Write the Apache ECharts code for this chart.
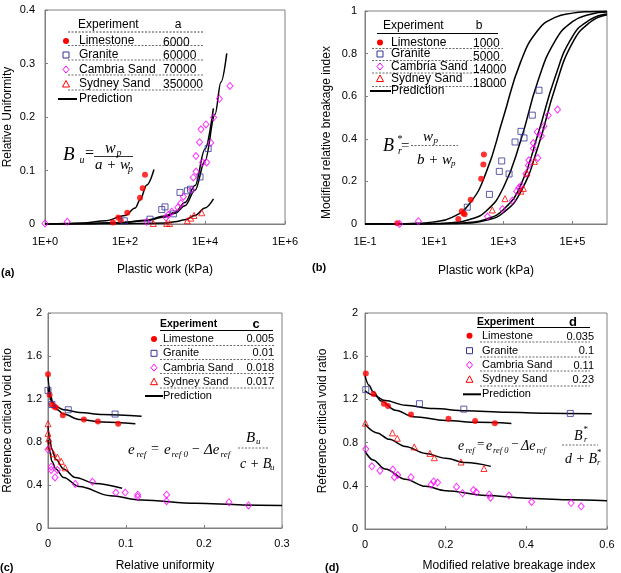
<!DOCTYPE html>
<html>
<head>
<meta charset="utf-8">
<script src="https://cdn.jsdelivr.net/npm/echarts@6/dist/echarts.min.js"></script>
<style>
html, body { margin: 0; padding: 0; background: #fff; }
#main { width: 621px; height: 573px; }
</style>
</head>
<body>
<div id="main"></div>
<script>
'use strict';
// ---- data ----
var materials = ['Limestone', 'Granite', 'Cambria Sand', 'Sydney Sand'];
var paramA = ['6000', '60000', '70000', '350000'];
var paramB = ['1000', '5000', '14000', '18000'];
var paramC = ['0.005', '0.01', '0.018', '0.017'];
var paramD = ['0.035', '0.1', '0.11', '0.23'];
var logTicksB = [0.1, 10, 1000, 100000];

// (a) plastic work (kPa) vs relative uniformity
var aLimestone = [[50, 0.003], [68, 0.012], [78, 0.007], [114, 0.021], [237, 0.049], [277, 0.067], [316, 0.092]];
var aGranite = [[96, 0.006], [422, 0.009], [830, 0.027], [1000, 0.032], [1620, 0.019], [2370, 0.059], [3630, 0.062], [4340, 0.065], [7500, 0.088], [12000, 0.141]];
var aCambria = [[1, 0.001], [3.6, 0.004], [350, 0.004], [1060, 0.012], [1200, 0.017], [1480, 0.023], [2090, 0.031], [2500, 0.039], [2880, 0.051], [4660, 0.064], [5100, 0.087], [6000, 0.098], [5950, 0.127], [7300, 0.153], [7940, 0.177], [8700, 0.115], [11000, 0.115], [10600, 0.186], [13900, 0.152], [16400, 0.199], [22900, 0.234], [42000, 0.258]];
var aSydney = [[510, 0.001], [1100, 0.001], [1300, 0.001], [3630, 0.006], [4400, 0.011], [5300, 0.016], [8300, 0.021]];
var aPredLimestone = [[1, 0], [3.2, 0.001], [10, 0.002], [32, 0.006], [100, 0.016], [180, 0.03], [237, 0.045], [350, 0.073], [530, 0.102]];
var aPredGranite = [[1, 0], [10, 0.001], [100, 0.003], [316, 0.007], [1000, 0.015], [1780, 0.022], [3160, 0.04], [5620, 0.072], [10000, 0.14], [16200, 0.216]];
var aPredCambria = [[1, 0], [10, 0.001], [100, 0.003], [316, 0.006], [1000, 0.013], [1780, 0.02], [3160, 0.034], [5620, 0.063], [10000, 0.118], [17800, 0.205], [25000, 0.265], [35000, 0.319]];
var aPredSydney = [[1, 0], [10, 0], [100, 0.0005], [316, 0.001], [1000, 0.002], [1780, 0.004], [3160, 0.008], [5620, 0.016], [10000, 0.03], [16300, 0.047]];

// (b) plastic work (kPa) vs modified relative breakage index
var bLimestone = [[0.86, 0.004], [50, 0.024], [63, 0.06], [70, 0.05], [76, 0.046], [114, 0.114], [229, 0.213], [265, 0.279], [275, 0.326]];
var bGranite = [[91, 0.079], [398, 0.139], [767, 0.247], [900, 0.296], [1470, 0.235], [2190, 0.385], [3250, 0.435], [3980, 0.404], [6900, 0.511], [10800, 0.628]];
var bCambria = [[1.0, 0.0], [3.5, 0.013], [350, 0.035], [950, 0.07], [1830, 0.11], [2440, 0.154], [2830, 0.17], [3260, 0.18], [4540, 0.236], [5300, 0.275], [5530, 0.299], [7400, 0.354], [7400, 0.38], [9980, 0.31], [9600, 0.432], [12700, 0.413], [15000, 0.459], [20000, 0.51], [37000, 0.537]];
var bSydney = [[480, 0.066], [1120, 0.119], [3240, 0.154], [3800, 0.167], [4800, 0.239], [8000, 0.294]];
var bWork = [0.1, 0.316, 1, 3.16, 10, 31.6, 100, 316, 1000, 3160, 10000, 31600, 100000, 316000, 1000000];
var bPredLimestone = [0, 0, 0.001, 0.003, 0.01, 0.03, 0.09, 0.24, 0.5, 0.76, 0.91, 0.97, 0.99, 0.997, 0.999];
var bPredGranite = [0, 0, 0, 0.001, 0.002, 0.006, 0.02, 0.06, 0.17, 0.39, 0.67, 0.86, 0.95, 0.984, 0.995];
var bPredCambria = [0, 0, 0, 0, 0.001, 0.002, 0.007, 0.022, 0.067, 0.18, 0.42, 0.69, 0.88, 0.958, 0.986];
var bPredSydney = [0, 0, 0, 0, 0.001, 0.002, 0.005, 0.017, 0.053, 0.15, 0.36, 0.64, 0.85, 0.946, 0.982];

// (c) relative uniformity vs reference critical void ratio
var cLimestone = [[0, 1.43], [0.002, 1.24], [0.005, 1.15], [0.008, 1.13], [0.010, 1.12], [0.019, 1.05], [0.046, 1.01], [0.064, 0.99], [0.090, 0.97]];
var cGranite = [[0, 1.28], [0.005, 1.15], [0.026, 1.10], [0.086, 1.06]];
var cCambria = [[0, 0.73], [0.004, 0.57], [0.004, 0.54], [0.012, 0.54], [0.009, 0.47], [0.035, 0.41], [0.057, 0.43], [0.087, 0.33], [0.099, 0.33], [0.115, 0.31], [0.115, 0.29], [0.152, 0.31], [0.152, 0.25], [0.232, 0.24], [0.257, 0.21]];
var cSydney = [[0, 0.97], [0, 0.88], [0.001, 0.83], [0.002, 0.76], [0.007, 0.69], [0.012, 0.66], [0.017, 0.62], [0.022, 0.56]];
var cPredLimestone = [[0, 1.42], [0.001, 1.33], [0.003, 1.24], [0.006, 1.17], [0.012, 1.10], [0.02, 1.06], [0.04, 1.01], [0.07, 0.985], [0.112, 0.97]];
var cPredGranite = [[0, 1.30], [0.002, 1.22], [0.005, 1.17], [0.01, 1.13], [0.02, 1.10], [0.04, 1.075], [0.07, 1.055], [0.12, 1.04]];
var cPredCambria = [[0, 0.82], [0.002, 0.72], [0.005, 0.62], [0.01, 0.55], [0.02, 0.47], [0.04, 0.385], [0.08, 0.30], [0.12, 0.26], [0.19, 0.23], [0.25, 0.215], [0.3, 0.21]];
var cPredSydney = [[0, 0.95], [0.002, 0.83], [0.005, 0.73], [0.01, 0.64], [0.02, 0.55], [0.035, 0.47], [0.06, 0.415], [0.095, 0.37]];

// (d) modified relative breakage index vs reference critical void ratio
var dLimestone = [[0.002, 1.44], [0.021, 1.25], [0.047, 1.16], [0.057, 1.14], [0.114, 1.06], [0.207, 1.02], [0.273, 1.0], [0.322, 0.98]];
var dGranite = [[0.002, 1.29], [0.135, 1.16], [0.245, 1.11], [0.509, 1.07]];
var dCambria = [[0.002, 0.74], [0.017, 0.58], [0.037, 0.54], [0.069, 0.55], [0.073, 0.48], [0.081, 0.50], [0.114, 0.48], [0.164, 0.41], [0.170, 0.44], [0.180, 0.43], [0.227, 0.39], [0.242, 0.33], [0.269, 0.36], [0.276, 0.34], [0.308, 0.32], [0.311, 0.29], [0.357, 0.31], [0.413, 0.25], [0.511, 0.24], [0.536, 0.21]];
var dSydney = [[0.001, 0.98], [0.068, 0.89], [0.080, 0.84], [0.122, 0.76], [0.161, 0.70], [0.172, 0.66], [0.238, 0.62], [0.295, 0.56]];
var dPredLimestone = [[0, 1.42], [0.01, 1.33], [0.02, 1.27], [0.04, 1.185], [0.075, 1.10], [0.12, 1.04], [0.2, 1.005], [0.28, 0.988], [0.363, 0.978]];
var dPredGranite = [[0, 1.28], [0.02, 1.24], [0.05, 1.19], [0.1, 1.145], [0.17, 1.115], [0.25, 1.095], [0.35, 1.08], [0.45, 1.072], [0.562, 1.066]];
var dPredCambria = [[0, 0.72], [0.02, 0.64], [0.05, 0.555], [0.1, 0.46], [0.15, 0.395], [0.2, 0.355], [0.3, 0.31], [0.4, 0.285], [0.5, 0.27], [0.6, 0.262]];
var dPredSydney = [[0, 0.97], [0.03, 0.89], [0.06, 0.83], [0.1, 0.765], [0.15, 0.70], [0.2, 0.655], [0.25, 0.615], [0.312, 0.58]];

// ---- styles ----
var SANS = "'Liberation Sans', Arial, sans-serif";
var SERIF = "'Liberation Serif', 'Times New Roman', serif";
var AXIS_GREY = '#808080';
var MARK = {
    'Limestone': { symbol: 'circle', size: 6, color: '#ff0000', fill: '#ff0000' },
    'Granite': { symbol: 'rect', size: 6, color: '#333399', fill: 'rgba(255,255,255,0)' },
    'Cambria Sand': { symbol: 'diamond', size: [6, 7], color: '#ff00ff', fill: 'rgba(255,255,255,0)' },
    'Sydney Sand': { symbol: 'triangle', size: 6, color: '#ff0000', fill: 'rgba(255,255,255,0)' }
};

function sci(v) {
    var e = Math.round(Math.log10(v));
    return e < 0 ? '1E-' + (-e) : '1E+' + e;
}

function pairs(xs, ys) {
    return xs.map(function (x, i) { return [x, ys[i]]; });
}

function scatter(name, data, gi) {
    var m = MARK[name];
    return {
        type: 'scatter', name: name, xAxisIndex: gi, yAxisIndex: gi, data: data,
        symbol: m.symbol, symbolSize: m.size, z: 3, silent: true,
        itemStyle: { color: m.fill, borderColor: m.color, borderWidth: name === 'Limestone' ? 0 : 1 }
    };
}

// curves on the log axes have evenly spaced points, so plain smoothing is enough there
function pred(data, gi, monotone) {
    return {
        type: 'line', name: 'Prediction', xAxisIndex: gi, yAxisIndex: gi, data: data,
        symbol: 'none', smooth: monotone ? 0.35 : 0.5, smoothMonotone: monotone ? 'x' : null,
        z: 2, silent: true,
        lineStyle: { color: '#000', width: 1.5 }
    };
}

function xAx(gi, o) {
    var ax = {
        gridIndex: gi, type: o.type || 'value', min: o.min, max: o.max,
        name: o.name, nameLocation: 'middle', nameGap: o.nameGap,
        nameTextStyle: { color: '#000', fontSize: 12, fontFamily: SANS, padding: o.pad || 0 },
        splitLine: { show: false },
        axisLine: { onZero: false, lineStyle: { color: AXIS_GREY } },
        axisTick: { inside: true, length: 3, lineStyle: { color: AXIS_GREY } },
        axisLabel: { color: '#000', fontSize: 11, fontFamily: SANS, margin: o.margin || 10 }
    };
    if (o.interval) ax.interval = o.interval;
    if (o.logBase) ax.logBase = o.logBase;
    if (o.ticks) {
        ax.axisLabel.customValues = o.ticks;
        ax.axisTick.customValues = o.ticks;
    }
    if (ax.type === 'log') ax.axisLabel.formatter = sci;
    return ax;
}

function yAx(gi, max, interval, name, nameGap, pad, margin) {
    return {
        gridIndex: gi, type: 'value', min: 0, max: max, interval: interval,
        name: name, nameLocation: 'middle', nameGap: nameGap,
        nameTextStyle: { color: '#000', fontSize: 12, fontFamily: SANS, padding: pad || 0 },
        splitLine: { show: false },
        axisLine: { lineStyle: { color: AXIS_GREY } },
        axisTick: { inside: true, length: 3, lineStyle: { color: AXIS_GREY } },
        axisLabel: { color: '#000', fontSize: 11, fontFamily: SANS, margin: margin }
    };
}

// ---- graphic helpers (legend tables, formulas, panel letters) ----
function txt(x, y, s, size, o) {
    o = o || {};
    return {
        type: 'text', x: x, y: y, silent: true, z: 10,
        style: {
            text: s, fontSize: size, fontFamily: o.serif ? SERIF : SANS,
            fontStyle: o.italic ? 'italic' : 'normal', fontWeight: o.bold ? 'bold' : 'normal',
            fill: '#000', align: o.align || 'left', verticalAlign: 'middle'
        }
    };
}
function seg(x1, y1, x2, y2, dash, w) {
    return {
        type: 'line', silent: true, z: 9,
        shape: { x1: x1, y1: y1, x2: x2, y2: y2 },
        style: { stroke: dash ? '#444' : '#000', lineWidth: w || 0.8, lineDash: dash ? [2, 1.5] : null }
    };
}
function marker(name, x, y) {
    var m = MARK[name];
    var st = { fill: m.fill, stroke: m.color, lineWidth: 1 };
    if (m.symbol === 'circle') return { type: 'circle', silent: true, z: 10, shape: { cx: x, cy: y, r: 3 }, style: { fill: m.color } };
    if (m.symbol === 'rect') return { type: 'rect', silent: true, z: 10, shape: { x: x - 3, y: y - 3, width: 6, height: 6 }, style: st };
    if (m.symbol === 'diamond') return { type: 'polygon', silent: true, z: 10, shape: { points: [[x, y - 3.5], [x + 3, y], [x, y + 3.5], [x - 3, y]] }, style: st };
    return { type: 'polygon', silent: true, z: 10, shape: { points: [[x, y - 3.5], [x + 3.5, y + 3], [x - 3.5, y + 3]] }, style: st };
}

function legendTable(L, values) {
    var g = [];
    g.push(txt(L.headX, L.headY, 'Experiment', L.headSize, { bold: L.bold }));
    g.push(txt(L.parX, L.headY, L.par, L.parSize, { bold: L.bold, align: 'center' }));
    if (L.headRule) g.push(seg(L.headRule[0], L.headRule[2], L.headRule[1], L.headRule[2], L.headRuleDash, 1));
    materials.forEach(function (name, i) {
        g.push(marker(name, L.markX, L.rowY[i]));
        g.push(txt(L.nameX, L.rowY[i], name, L.size));
        g.push(txt(L.valX, L.rowY[i] + L.valDy[i], values[i], L.size, { align: L.valAlign }));
        g.push(seg(L.ruleX[0], L.ruleY[i], L.ruleX[1], L.ruleY[i], true));
    });
    g.push(seg(L.predX[0], L.predY, L.predX[1], L.predY, false, 2));
    g.push(txt(L.nameX, L.predY, 'Prediction', L.size));
    return g;
}

function formula(parts, bars) {
    var g = parts.map(function (p) {
        return txt(p[1], p[2], p[0], p[3], { serif: true, italic: p[4] });
    });
    bars.forEach(function (b) { g.push(seg(b[0], b[2], b[1], b[2], b[3], 0.8)); });
    return g;
}

var graphics = [].concat(
    legendTable({
        headX: 78, headY: 25, headSize: 12, par: 'a', parX: 178, parSize: 12, bold: false,
        headRule: [68, 203, 32], headRuleDash: true,
        markX: 66, nameX: 79, valX: 163, valAlign: 'left', size: 12,
        rowY: [41, 55, 69.5, 84], valDy: [1.5, 0.5, 0.5, 0.5],
        ruleX: [68, 203], ruleY: [45.5, 60, 75, 90],
        predX: [58, 77], predY: 99
    }, paramA),
    legendTable({
        headX: 383, headY: 26, headSize: 12, par: 'b', parX: 479, parSize: 12, bold: false,
        headRule: [377, 498, 33.5], headRuleDash: false,
        markX: 380, nameX: 391, valX: 473, valAlign: 'left', size: 12,
        rowY: [42.5, 54, 66.5, 78.5], valDy: [1.5, 3, 3.5, 5],
        ruleX: [372, 503], ruleY: [48.5, 60.5, 73, 86.5],
        predX: [370, 391], predY: 91
    }, paramB),
    legendTable({
        headX: 160, headY: 324.5, headSize: 10.5, par: 'c', parX: 256, parSize: 13, bold: true,
        headRule: [160, 273, 330.5], headRuleDash: false,
        markX: 154, nameX: 163, valX: 274, valAlign: 'right', size: 11,
        rowY: [339, 353.3, 367.7, 381.7], valDy: [0, 0, 0, 0],
        ruleX: [160, 274], ruleY: [345.5, 359.5, 373.5, 388],
        predX: [145, 163], predY: 396
    }, paramC),
    legendTable({
        headX: 477, headY: 322.5, headSize: 10.5, par: 'd', parX: 573, parSize: 13, bold: true,
        headRule: [477, 590, 327.5], headRuleDash: false,
        markX: 469.5, nameX: 482, valX: 594, valAlign: 'right', size: 11,
        rowY: [335.7, 350.7, 365, 379.3], valDy: [1.5, 0.5, 0.5, 0.5],
        ruleX: [480, 590], ruleY: [342, 357, 371, 386],
        predX: [463, 481], predY: 394.3
    }, paramD),
    formula([
        ['B', 63, 155, 19, true], ['u', 79.5, 160, 10, true], ['=', 85, 154, 16, false],
        ['w', 105, 149, 16, true], ['p', 116.5, 153, 10, true],
        ['a + w', 95, 165.5, 15, true], ['p', 128, 169.5, 10, true]
    ], [[94, 133, 156.5, false]]),
    formula([
        ['B', 383, 146, 18, true], ['*', 397.5, 139, 10, false], ['r', 398, 151, 10, true], ['=', 401, 146, 15, false],
        ['w', 423, 137.5, 15, true], ['p', 433.5, 141, 9, true],
        ['b + w', 417, 160, 15, true], ['p', 451, 164, 9, true]
    ], [[411, 458, 145.5, true]]),
    formula([
        ['e', 128, 450, 15, true], ['ref', 136.5, 455, 9, true], ['=', 151, 449, 14, false],
        ['e', 164, 450, 15, true], ['ref 0', 171.5, 455, 9, true], ['\u2212', 192, 449, 14, false],
        ['\u0394e', 204, 450, 15, true], ['ref', 220.5, 455, 9, true],
        ['B', 246, 438, 15, true], ['u', 256, 442, 9, true],
        ['c + B', 240, 464, 14, true], ['u', 270, 468, 9, true]
    ], [[238, 268, 448, true]]),
    formula([
        ['e', 458, 446, 14, true], ['ref', 465.5, 451, 8.5, true], ['=', 477, 445, 13, false],
        ['e', 486, 446, 14, true], ['ref 0', 493, 451, 8.5, true], ['\u2212', 511, 445, 13, false],
        ['\u0394e', 521, 446, 14, true], ['ref', 536.5, 451, 8.5, true],
        ['B', 574, 436, 14, true], ['*', 583.5, 430, 9, false], ['r', 584, 440, 8.5, true],
        ['d + B', 565, 459, 14, true], ['*', 597, 453, 9, false], ['r', 597, 463, 8.5, true]
    ], [[562, 598, 445, true]]),
    [
        txt(1, 272.5, '(a)', 11, { bold: true }),
        txt(312, 268, '(b)', 11, { bold: true }),
        txt(0, 568, '(c)', 11, { bold: true }),
        txt(325, 568, '(d)', 11, { bold: true })
    ]
);

var option = {
    animation: false,
    backgroundColor: '#fff',
    textStyle: { fontFamily: SANS },
    grid: [
        { left: 45, top: 10, width: 240, height: 214, show: true, borderColor: AXIS_GREY, borderWidth: 1 },
        { left: 365, top: 11, width: 242, height: 213, show: true, borderColor: AXIS_GREY, borderWidth: 1 },
        { left: 48, top: 313, width: 234, height: 215, show: true, borderColor: AXIS_GREY, borderWidth: 1 },
        { left: 365, top: 313, width: 242, height: 217, show: true, borderColor: AXIS_GREY, borderWidth: 1 }
    ],
    xAxis: [
        xAx(0, { type: 'log', logBase: 100, min: 1, max: 1000000, name: 'Plastic work (kPa)', nameGap: 40, margin: 12 }),
        xAx(1, { type: 'log', logBase: 10, min: 0.1, max: 1000000, ticks: logTicksB, name: 'Plastic work (kPa)', nameGap: 41, margin: 12 }),
        xAx(2, { min: 0, max: 0.3, interval: 0.1, name: 'Relative uniformity', nameGap: 32, margin: 10 }),
        xAx(3, { min: 0, max: 0.6, interval: 0.2, name: 'Modified relative breakage index', nameGap: 31, margin: 10, pad: [0, 0, 0, 46] })
    ],
    yAxis: [
        yAx(0, 0.4, 0.1, 'Relative Uniformity', 31, 0, 10),
        yAx(1, 1, 0.2, 'Modified relative breakage index', 32, [0, 30, 0, 0], 8),
        yAx(2, 2, 0.4, 'Reference critical void ratio', 34, 0, 6),
        yAx(3, 2, 0.4, 'Reference critical void ratio', 36, 0, 7)
    ],
    series: [
        pred(aPredLimestone, 0, true), pred(aPredGranite, 0, true), pred(aPredCambria, 0, true), pred(aPredSydney, 0, true),
        scatter('Limestone', aLimestone, 0), scatter('Granite', aGranite, 0),
        scatter('Cambria Sand', aCambria, 0), scatter('Sydney Sand', aSydney, 0),

        pred(pairs(bWork, bPredLimestone), 1, false), pred(pairs(bWork, bPredGranite), 1, false),
        pred(pairs(bWork, bPredCambria), 1, false), pred(pairs(bWork, bPredSydney), 1, false),
        scatter('Limestone', bLimestone, 1), scatter('Granite', bGranite, 1),
        scatter('Cambria Sand', bCambria, 1), scatter('Sydney Sand', bSydney, 1),

        pred(cPredLimestone, 2, true), pred(cPredGranite, 2, true), pred(cPredCambria, 2, true), pred(cPredSydney, 2, true),
        scatter('Limestone', cLimestone, 2), scatter('Granite', cGranite, 2),
        scatter('Cambria Sand', cCambria, 2), scatter('Sydney Sand', cSydney, 2),

        pred(dPredLimestone, 3, true), pred(dPredGranite, 3, true), pred(dPredCambria, 3, true), pred(dPredSydney, 3, true),
        scatter('Limestone', dLimestone, 3), scatter('Granite', dGranite, 3),
        scatter('Cambria Sand', dCambria, 3), scatter('Sydney Sand', dSydney, 3)
    ],
    graphic: graphics
};

var chart = echarts.init(document.getElementById('main'));
chart.setOption(option);
</script>
</body>
</html>
